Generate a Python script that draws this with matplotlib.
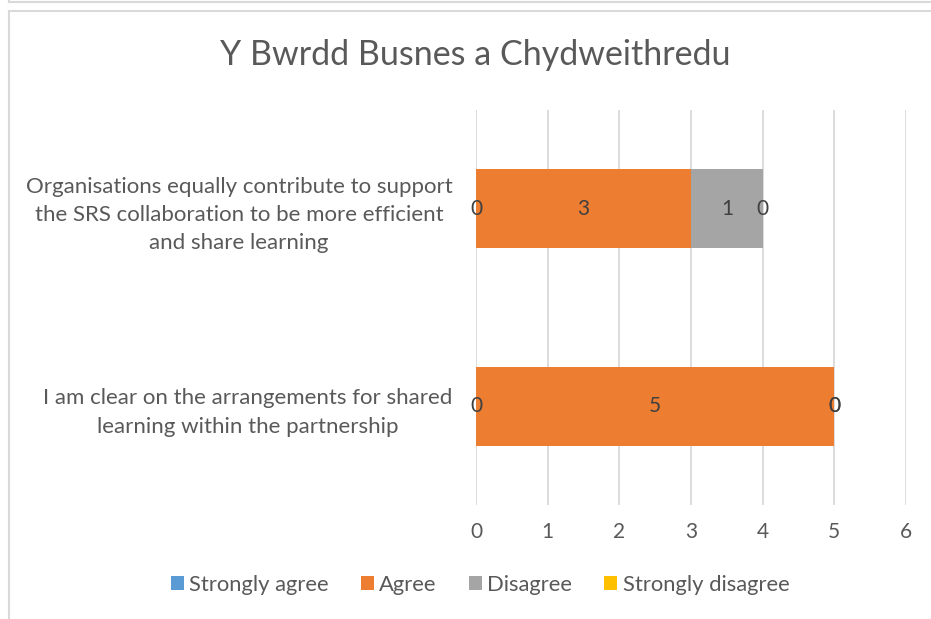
import matplotlib.pyplot as plt
from matplotlib.lines import Line2D
from matplotlib.patches import Patch

categories = ["I am clear on the arrangements for shared\nlearning within the partnership",
              "Organisations equally contribute to support\nthe SRS collaboration to be more efficient\nand share learning"]
series_names = ["Strongly agree", "Agree", "Disagree", "Strongly disagree"]
strongly_agree = [0, 0]
agree = [5, 3]
disagree = [0, 1]
strongly_disagree = [0, 0]
colors = ["#5B9BD5", "#ED7D31", "#A5A5A5", "#FFC000"]
x_ticks = [0, 1, 2, 3, 4, 5, 6]
title = "Y Bwrdd Busnes a Chydweithredu"

plt.rcParams['font.family'] = ['Lato', 'DejaVu Sans']
W, H = 931, 619
fig = plt.figure(figsize=(W/100, H/100), dpi=100)
ax = fig.add_axes([476/W, 1-505/H, (906-476)/W, (505-110)/H])

series = [strongly_agree, agree, disagree, strongly_disagree]
ypos = list(range(len(categories)))
left = [0]*len(categories)
text_color = "#595959"
for name, vals, c in zip(series_names, series, colors):
    ax.barh(ypos, vals, left=left, height=0.4, color=c, label=name, zorder=3)
    for i, v in enumerate(vals):
        ax.text(left[i] + v/2, ypos[i], str(v), ha='center', va='center',
                fontsize=15, color="#404040", zorder=4)
    left = [l + v for l, v in zip(left, vals)]

ax.set_xlim(0, 6)
ax.set_ylim(-0.5, 1.5)
ax.set_xticks(x_ticks)
ax.set_xticklabels([str(t) for t in x_ticks], fontsize=15, color=text_color)
ax.set_yticks(ypos)
ax.set_yticklabels(categories, fontsize=16, color=text_color, linespacing=1.52)
ax.tick_params(axis='both', length=0)
ax.tick_params(axis='x', pad=12)
ax.tick_params(axis='y', pad=17)
for lab in ax.get_yticklabels():
    lab.set_horizontalalignment('right')
    lab.set_multialignment('center')
ax.grid(axis='x', color="#D9D9D9", linewidth=1.3, zorder=0)
for s in ax.spines.values():
    s.set_visible(False)

fig.text(475/W, 1-55/H, title, ha='center', va='center', fontsize=24.5, color=text_color)

handles = [Patch(facecolor=c, edgecolor='none') for c in colors]
fig.legend(handles, series_names, loc='center', bbox_to_anchor=(480/W, 1-585/H), ncol=4,
           frameon=False, fontsize=15.8, labelcolor=text_color, handlelength=0.6,
           handleheight=0.6, handletextpad=0.25, columnspacing=1.45)

bc = "#D9D9D9"
fig.add_artist(Line2D([9/W, 1], [1-2/H, 1-2/H], color=bc, lw=1.5, transform=fig.transFigure))
fig.add_artist(Line2D([9/W, 9/W], [1, 1-2/H], color=bc, lw=1.5, transform=fig.transFigure))
fig.add_artist(Line2D([9/W, 1], [1-10.5/H, 1-10.5/H], color=bc, lw=1.5, transform=fig.transFigure))
fig.add_artist(Line2D([9/W, 9/W], [1-10.5/H, 0], color=bc, lw=1.5, transform=fig.transFigure))

fig.savefig("out.png", dpi=100)
